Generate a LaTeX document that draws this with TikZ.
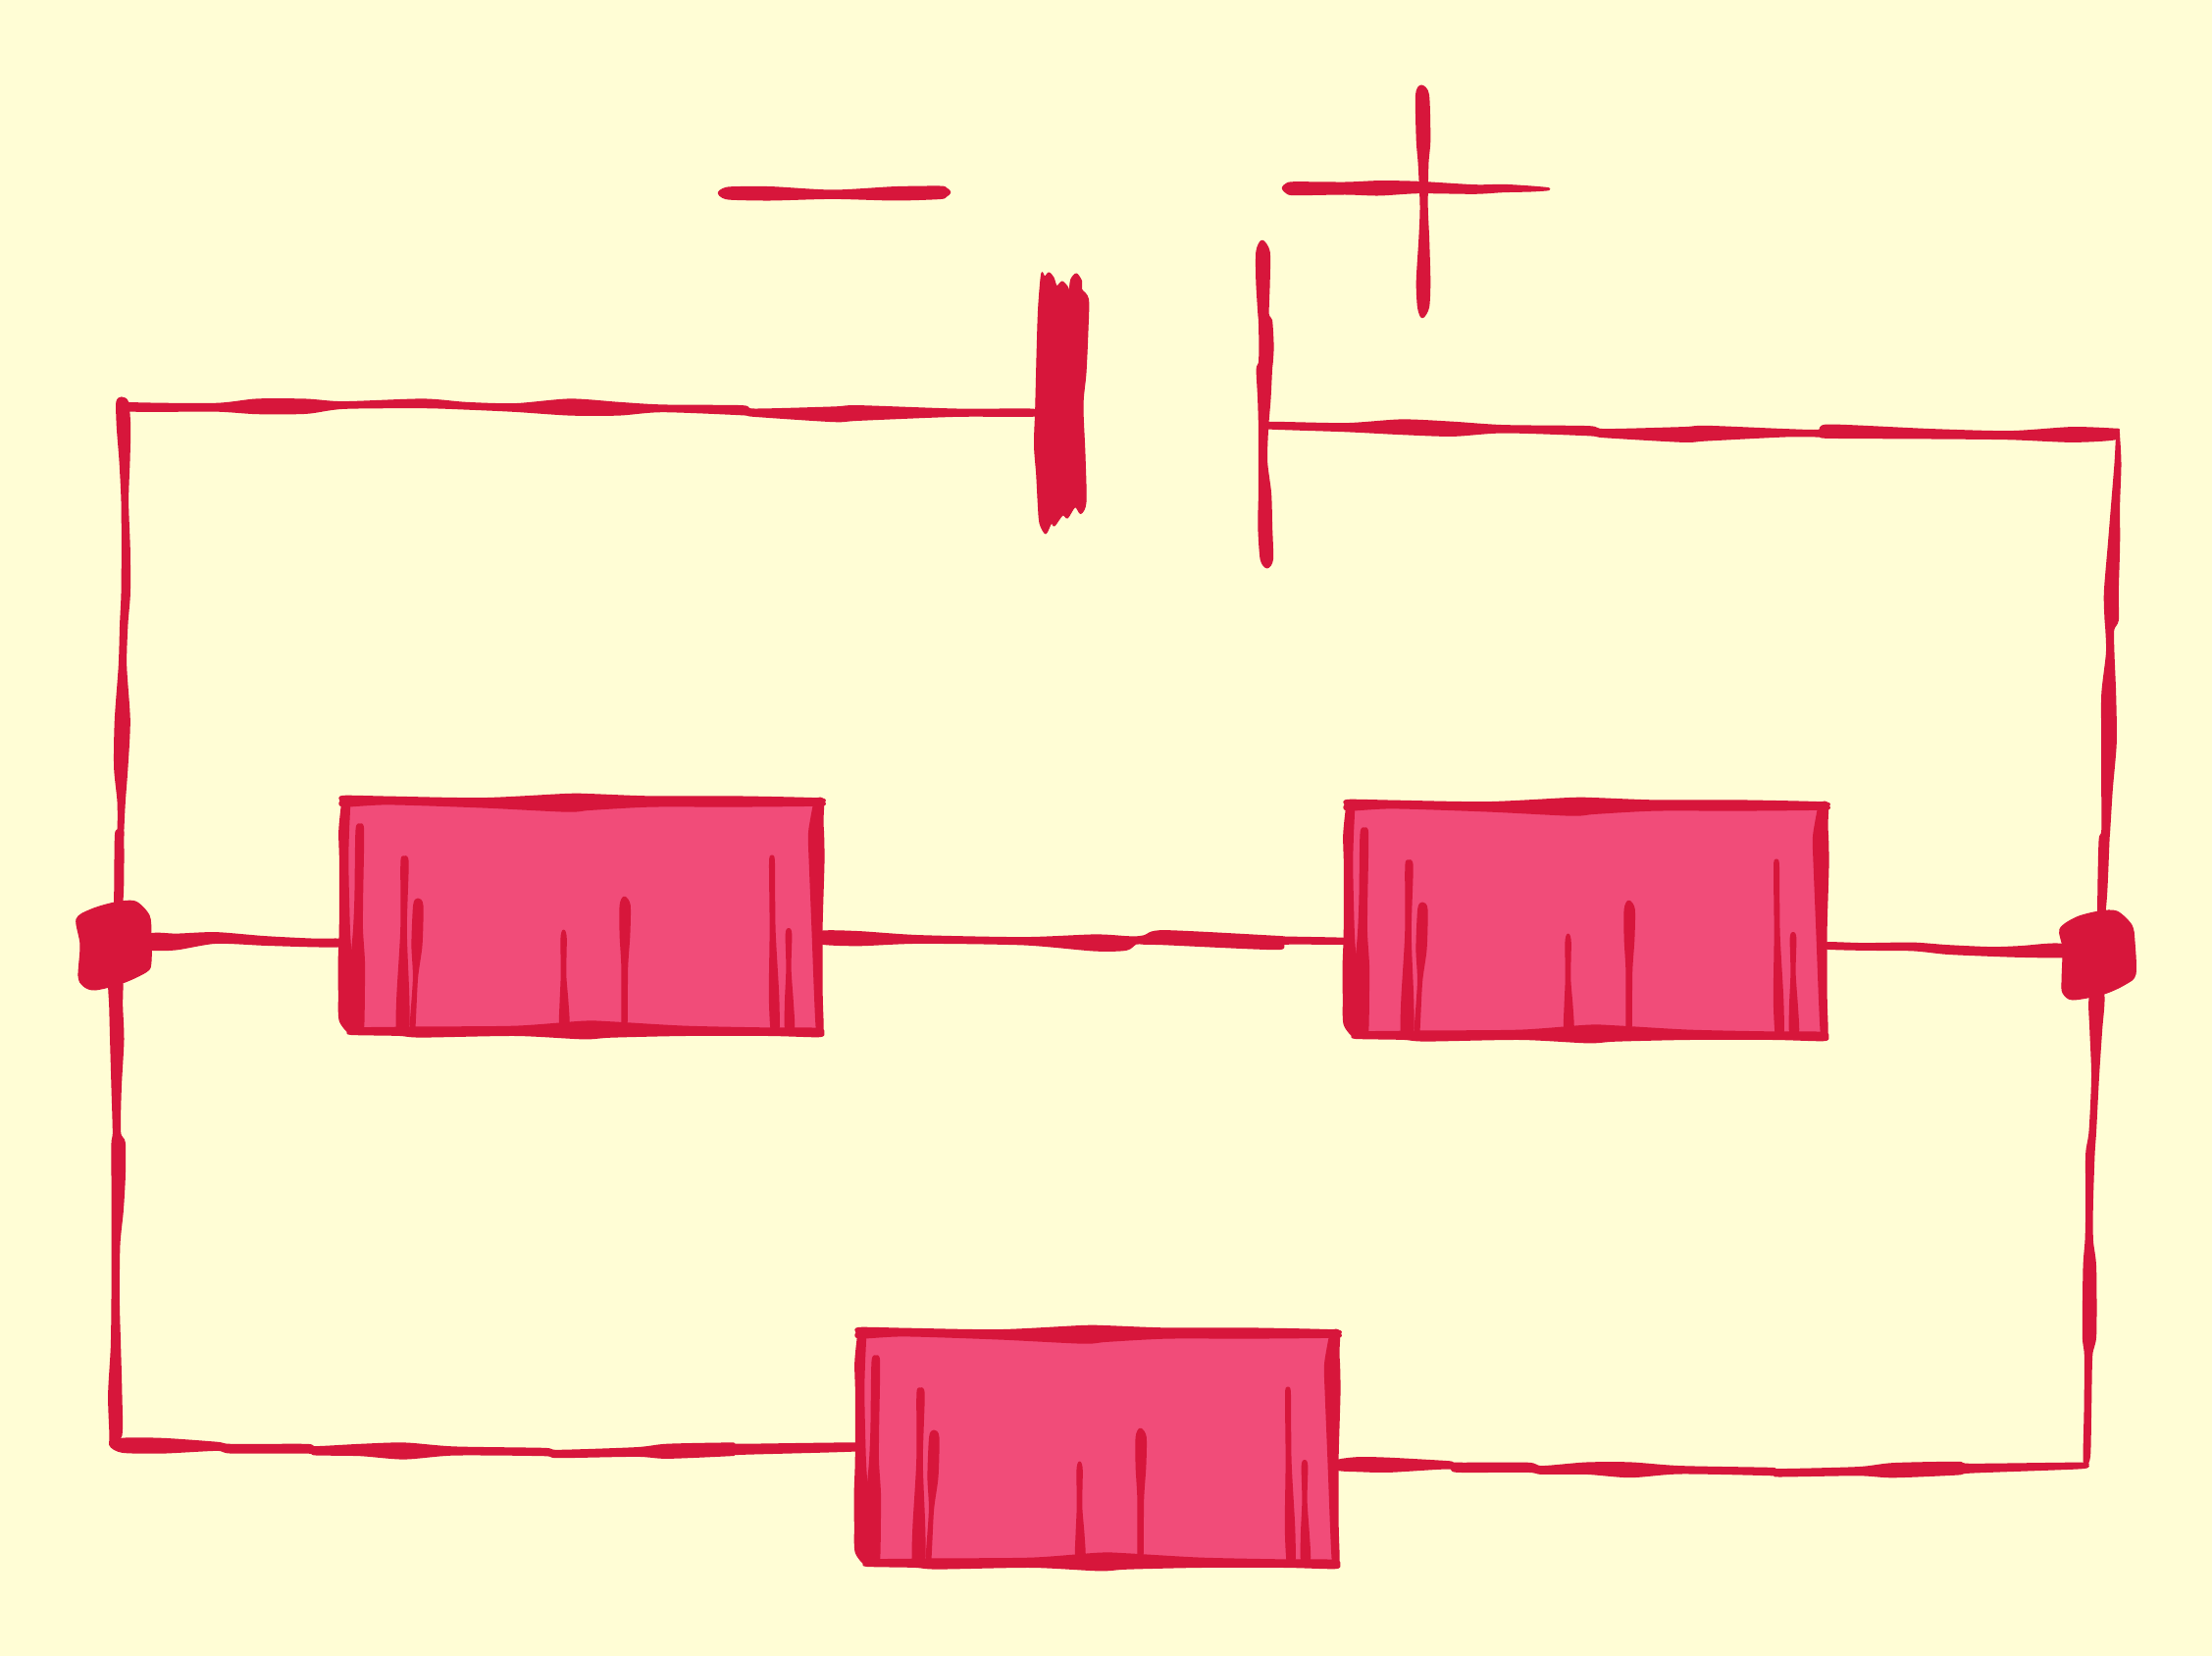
\documentclass[tikz,border=0pt]{standalone}
\definecolor{paper}{HTML}{FFFDD5}
\definecolor{inkred}{HTML}{D7163B}
\definecolor{boxpink}{HTML}{F14C79}
\tikzset{
  ink/.style={fill=inkred,draw=inkred,line width=2.8pt,line join=round},
  resistor/.style={rectangle,fill=boxpink,draw=none,inner sep=0pt,minimum width=484pt,minimum height=232pt},
  blob/.style={fill=inkred,draw=inkred,line width=1pt,line join=round}
}
% stroke running mostly horizontally: x/y/half-height
\newcommand\inkh[3]{%
  \gdef\inkUp{}\gdef\inkDn{}%
  \foreach \px/\py/\ph in {#3}{\xdef\inkUp{\inkUp(\px,\py-\ph)}\xdef\inkDn{(\px,\py+\ph)\inkDn}}%
  \edef\inkTmp{\noexpand\path[ink] plot[smooth cycle,tension=.45] coordinates {(#1)\inkUp(#2)\inkDn};}\inkTmp}
% stroke running mostly vertically: x/y/half-width
\newcommand\inkv[3]{%
  \gdef\inkUp{}\gdef\inkDn{}%
  \foreach \px/\py/\ph in {#3}{\xdef\inkUp{\inkUp(\px+\ph,\py)}\xdef\inkDn{(\px-\ph,\py)\inkDn}}%
  \edef\inkTmp{\noexpand\path[ink] plot[smooth cycle,tension=.45] coordinates {(#1)\inkUp(#2)\inkDn};}\inkTmp}
% hand-inked outline and hatching of a resistor, in the coordinates of the first one
\newcommand\inkbox{%
  \inkh{348,816}{838,818}{350/816.7/4.5,396/816/3,492/818.3/3.8,578/818.3/8,602/817.5/7,664/817/4.2,750/817/4.2,835/817.5/2.8}%
  \inkh{356,1051}{839,1053}{358/1051.2/2.4,406/1051.3/3.2,430/1052/4.2,526/1050.8/3.8,595/1050/8,623/1049.5/6.8,698/1050.8/3.8,784/1051.7/2.9,834/1052.5/3.4}%
  \inkv{352,814}{358,1053}{352.7/817/3,350.6/847/4,350.6/880/3.3,351.3/947/4.2,352/980/6,354.4/1013/8.2,356/1040/9}%
  \inkv{836,814}{836,1052}{835/817/3.8,832.6/837/5.5,832/852/6.8,832.6/880/6.5,833/947/4.2,834.3/1013/3,835.7/1048/2.6}%
  \inkv{367,841}{366,1052}{366.8/847/3,365.8/913/3,365/947/3.6,364.7/980/5.9,365/1013/5.5,366/1047/3.8}%
  \inkv{412,874}{410,1052}{412.5/880/2.8,411.5/947/1.9,410.8/1013/5,410.5/1047/5.4}%
  \inkv{426,917}{420,1052}{426.3/923/3.8,425/963/4.2,423.5/997/1.2,420.5/1047/1.6}%
  \inkv{574.6,949}{575,1052}{574.6/957/1.8,574.5/993/1.4,575/1020/3,575.3/1045/4}%
  \inkv{636.5,915}{636.5,1050}{637.2/923/4.2,637/953/4,636.8/987/2,636.5/1043/1.8}%
  \inkv{787,873}{790,1054}{787/880/1.6,787.6/947/1.6,789/1013/3.8,790/1048/3.3}%
  \inkv{804,947}{805,1052}{804/953/2,804/987/1.2,804.4/1020/3,805/1047/3.8}%
}
\begin{document}
\begin{tikzpicture}[x=1pt,y=-1pt]
\useasboundingbox (0,0) rectangle (2255,1688);
\fill[paper] (0,0) rectangle (2255,1688);
% named points
\coordinate (TL) at (124,406);
\coordinate (TR) at (2159,439);
\coordinate (BL) at (113,1473);
\coordinate (BR) at (2126,1493);
\coordinate (J1) at (117,963);
\coordinate (J2) at (2140,973);
\coordinate (P1) at (1060,421);
\coordinate (P2) at (1290,434);
\coordinate (R1w) at (352,961);
\coordinate (R1e) at (833,956);
\coordinate (R2w) at (1376,959);
\coordinate (R2e) at (1857,964);
\coordinate (R3w) at (878,1475);
\coordinate (R3e) at (1359,1493);
% resistors
\begin{scope}
  \node[resistor] (R1) at (595,934) {};
  \inkbox
\end{scope}
\begin{scope}[shift={(1024,4)}]
  \node[resistor] (R2) at (595,934) {};
  \inkbox
\end{scope}
\begin{scope}[shift={(526,542)}]
  \node[resistor] (R3) at (595,934) {};
  \inkbox
\end{scope}
% junctions
\path[blob] plot[smooth cycle,tension=.5] coordinates {(78,937)(93,927)(117,920)(138,919)(152,933)(154,952)(154,980)(150,990)(125,1002)(97,1009)(85,1005)(80,995)(82,963)};
\path[blob] plot[smooth cycle,tension=.5] coordinates {(2100,947)(2117,935)(2140,929)(2158,929)(2173,943)(2176,960)(2177,993)(2167,1003)(2145,1013)(2113,1019)(2103,1012)(2102,1000)(2103,967)};
% battery plates
\path[blob] plot[smooth cycle,tension=.5] coordinates {(1061.7,279)(1065,282)(1069.3,278)(1074,283)(1077.3,291.7)(1082.7,287)(1088,292)(1090,297)(1091.7,285)(1097.3,279)(1102.7,286.7)(1102.7,295)(1109.5,305)(1109,336.7)(1107,380)(1104,413.3)(1106,463.3)(1107,511.7)(1101.7,523.5)(1096,516.7)(1088.3,528)(1083.3,525)(1075,536)(1071.7,533.3)(1066,544)(1060,533.3)(1058.3,513.3)(1056.7,483.3)(1054.5,453.3)(1055.7,416.7)(1057.3,353.3)(1058.7,313.3)};
\inkv{1286.7,246}{1291.7,578}{1287.5/256.7/5.8,1287.5/286.7/5.8,1288/320/4.3,1290/326.7/5.7,1291/353/6.2,1290.3/370/6,1288.8/376.7/6.8,1288.8/406.7/5.3,1288/436.7/3.7,1287.5/470/3.2,1289.5/503/5.2,1289.7/536.7/6,1291.3/570/5.3}
% wires
\inkh{TL}{P1}{128/414.5/3.3,219/415.2/3,262/414.3/6.5,312/414.2/6.3,350/413/2.5,431/411.3/3.5,475/413.7/2.5,525/415.5/3,581/415/7.2,631/416.7/5.5,675/416.3/2.5,756/418.2/3.7,769/420.7/2.8,850/422.3/6.5,875/421/6.5,975/420.7/2.8,1050/420.7/2.8}
\inkh{P2}{TR}{1294/433.7/2.5,1372/435.7/3.2,1429/435.3/6.5,1481/437.3/6.2,1533/437.3/2.8,1619/439.2/3.7,1636/441.7/3.2,1716/443/6.5,1739/441.7/6.5,1820/441.3/2.8,1854/441.7/2.5,1865/439.7/5.8,1969/442.3/3.8,2049/443.7/3.2,2112/443/6.5,2156/442.5/4.5}
\inkv{TL}{J1}{124.7/410/5,126/435/5.8,127/470/4.1,127.3/511/2.4,128.3/560/3.1,128.2/605/3.3,126.3/636/2.8,125/678/2.8,124.8/734/6.6,123.3/782/5.8,123.7/817/2.8,123/845/2.1,121.7/852/3.4,121/914/3.4}
\inkv{J1}{BL}{117.7/998/6.1,118.2/1025/5.6,119.3/1060/5.8,118.7/1109/3.8,119/1154/2.8,120.7/1165/5.8,120.7/1199/5.8,119.7/1234/4.8,118/1269/3.1,117.7/1324/2.8,118/1373/3.8,117.3/1422/5.8,118/1463/5.1}
\inkh{BL}{R3w}{125/1473.3/6.2,166/1473.7/6.5,221/1474.3/3.2,236/1476.7/3.5,312/1476.7/3.5,322/1478.8/3.3,367/1478/4.8,412/1479/7.2,463/1479/3.2,554/1480/2.8,569/1482/2.8,649/1480/3.5,680/1479.3/6.2,745/1477.3/5.5,755/1477.3/4.2,871/1475/3.2}
\inkh{R3e}{BR}{1365/1493.3/4.5,1385/1492.7/6.2,1416/1493.3/6.2,1476/1493.3/2.8,1486/1495.8/3.7,1557/1495.8/3.7,1572/1498.5/3,1617/1496.7/4.8,1662/1498.3/6.5,1713/1498.3/2.8,1804/1500/2.8,1814/1501.3/2.8,1894/1499.7/3.2,1930/1498.7/6.2,1995/1496.7/5.5,2010/1496.7/3.5,2120/1494/2}
\inkv{TR}{J2}{2159/472/2.1,2156.7/513/3.1,2155/555/4.8,2152.3/604/6.1,2152.7/632/5.8,2150.8/642/3.1,2151.2/666/2.9,2149.7/708/6.1,2150/757/6.4,2148/805/4.4,2146.7/847/3.1,2145/857/4.1,2143/916/3.4}
\inkv{J2}{BR}{2137.5/1017/6.6,2136.7/1049/5.1,2136/1097/2.6,2133.3/1153/2.4,2130.8/1177/3.3,2130/1229/2.4,2129.7/1264/2.8,2130.3/1292/5.4,2130/1361/5.8,2129/1382/2.8,2128.3/1438/2.4,2127.3/1484/2.4}
\inkh{J1}{R1w}{154/960/7.5,180/960/7,220/956/4.5,270/959/3.5,320/961/3,346/961/3}
\inkh{R1e}{R2w}{839/955.7/5.8,876/956.7/6.2,937/957.5/3,1044/959.3/2.8,1116/961/7.2,1148/961.5/6,1158/958.5/2.7,1167/958/3.5,1187/955.7/6.2,1301/961/5.8,1310/958.7/2.8,1369/959.3/2.2}
\inkh{R2e}{J2}{1864/964/2.5,1900/965/2.5,1950/965/3,1985/968/3.5,2030/970/3.5,2060/970/4.5,2100/969/6}
% minus sign
\inkh{733,196.7}{968,196}{737/197/3.6,746/197/5.4,786/197.3/5.8,849/198.2/3.3,912/197.3/5.8,958/196.3/5.4,964/196/3.6}
% plus sign
\inkh{1308,191.7}{1579,192.7}{1312/192/4.1,1320/192.2/5.6,1371.6/192/5.1,1406/191.8/6.3,1446/191/4.8,1503.6/193/3.4,1532/192/2.8,1561/192.5/1.6}
\inkv{1449,88}{1450,323}{1450/96.7/5.6,1451/143/5.9,1451/166.7/4,1451.6/210/2.7,1451.7/243/4,1451/286.7/5.9,1451/313/4.7}
\end{tikzpicture}
\end{document}
